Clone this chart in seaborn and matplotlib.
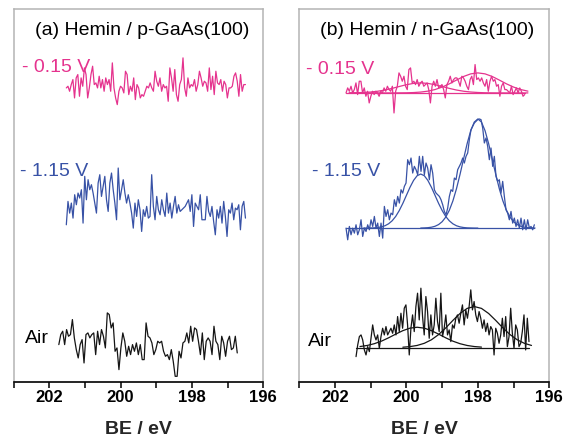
import numpy as np
import matplotlib
matplotlib.use("Agg")
import matplotlib.pyplot as plt
from matplotlib.ticker import MultipleLocator, FuncFormatter
import seaborn as sns

sns.set_style("white")
plt.rcParams["font.family"] = ["Liberation Sans", "DejaVu Sans"]

# ---------------- data (intensity in arbitrary counts) ----------------
# (a) Hemin / p-GaAs(100)
p_neg015_be = (201.52, 196.50)
p_neg015 = [50, 55, 40, 60, 75, 20, 80, 90, 25, 80,
            55, 110, 90, 20, 50, 90, 115, 60, 65, 50,
            85, 50, 75, 40, 80, 60, 75, 40, 125, 50,
            20, 0, 40, 55, 50, 35, 100, 90, 30, 55,
            40, 80, 15, 60, 50, 20, 30, 25, 40, 55,
            50, 65, 50, 40, 100, 70, 55, 80, 40, 60,
            50, 55, 10, 110, 80, 40, 105, 30, 10, 60,
            75, 140, 50, 25, 80, 50, 60, 55, 75, 40,
            60, 100, 80, 55, 70, 65, 40, 110, 45, 85,
            30, 100, 65, 60, 75, 40, 70, 60, 20, 50,
            50, 55, 85, 95, 70, 25, 90, 40, 60, 60]

p_neg115_be = (201.52, 196.50)
p_neg115 = [35, 105, 70, 100, 55, 125, 95, 130, 115, 140,
            40, 180, 110, 170, 140, 155, 130, 100, 70, 160,
            185, 120, 150, 180, 110, 75, 160, 190, 140, 100,
            50, 205, 110, 140, 170, 130, 100, 125, 100,
            70, 25, 100, 60, 110, 80, 15, 80, 60,
            90, 55, 60,
            185, 90, 50, 120, 80, 65, 110, 80, 60, 130,
            70, 100, 55, 90, 120, 70, 95,
            75, 80, 85, 90, 100, 110, 75, 125,
            30, 100, 90, 80, 125,
            50, 50, 50, 120,
            75, 60, 90, 45, 5,
            80, 55, 90, 40, 105,
            60, 0,
            80, 70, 100, 50, 85, 80, 95, 20,
            90, 105, 55]

p_air_be = (201.73, 196.73)
p_air = [110, 140, 150, 110, 155, 135, 140, 185, 130, 95,
         70, 110, 125, 55, 140, 145, 130, 140, 145, 80,
         150, 110, 155, 135, 100, 205, 200, 160, 175, 90,
         100, 35, 100, 145, 120, 75, 105, 80, 110, 90,
         115, 80, 110, 65, 65, 175, 135, 130, 115, 80,
         95, 120, 115, 120, 90, 75, 80, 65, 95, 60,
         15, 15, 90, 70, 115, 120, 145, 115, 165, 120,
         160, 155, 120, 80, 145, 65, 120, 130, 120, 80,
         165, 120, 110, 65, 135, 115, 75, 120, 135, 95,
         100, 135, 85]

# (b) Hemin / n-GaAs(100)
n_neg015_be = (201.69, 196.69)
n_neg015 = [70, 85, 75, 90, 70, 80, 100, 65, 105, 105,
            70, 85, 60, 75, 40, 60, 75, 65, 75, 70,
            60, 75, 70, 85, 75, 90, 80, 75, 90, 10,
            75, 90, 130, 120, 105, 120, 90, 80, 140, 145,
            100, 105, 95, 110, 90, 100, 105, 90, 95, 100,
            80, 40, 90, 105, 90, 110, 85, 90, 95, 80,
            55, 95, 105, 120, 100, 110, 115, 115, 105, 90,
            120, 115, 105, 90, 80, 110, 120, 95, 155, 110,
            115, 105, 115, 100, 90, 110, 75, 105, 120, 105,
            110, 90, 95, 60, 90, 100, 80, 80, 75, 70,
            90, 65, 75, 85, 70, 85, 75, 60, 65]
n_neg015_bg = 70
n_neg015_fit_be = (201.6, 196.6)
n_neg015_fit1 = [70.2, 70.5, 71.3, 72.7, 75.1, 78.7, 83.6, 89.3, 94.6, 98.6,
                 100, 98.6, 94.6, 89.3, 83.6, 78.7, 75.1, 72.7, 71.3, 70.5,
                 70.2, 70.1, 70, 70, 70, 70]
n_neg015_fit2 = [70, 70, 70, 70, 70, 70, 70, 70.2, 70.4, 71.1,
                 72.6, 75.3, 80.1, 87.5, 97.2, 108.5, 119.3, 127.1, 130, 127.1,
                 119.3, 108.5, 97.2, 87.5, 80.1, 75.3]

n_neg115_be = (201.69, 196.42)
n_neg115 = [45, 10, 50, 25, 45, 30, 55, 25, 40, 70,
            20, 45, 35, 55, 40, 70, 50, 80, 45, 60,
            20, 60, 15,
            110, 80, 100, 70, 90, 85, 130, 110, 140, 120,
            160, 150, 170, 180, 250, 235, 255, 210, 230, 220,
            205, 260, 215, 260, 205, 240, 225, 190, 235, 210,
            160, 150, 145, 140, 130, 115, 95, 85, 105, 140,
            160, 155, 195, 190, 220, 230, 240, 255, 240, 260,
            270, 310, 340, 350, 360, 365, 370, 372, 370, 345,
            300, 315, 290, 250, 285, 230, 260, 200, 185, 190,
            150, 185, 140, 100, 90, 70, 95, 60, 75, 50,
            70, 45, 75, 40, 70, 40, 70, 45, 50, 40,
            55]
n_neg115_bg = 45
n_neg115_fit1_be = (201.2, 198.0)
n_neg115_fit1 = [45, 45.1, 45.4, 45.8, 46.8, 48.7, 52.1, 57.9, 66.9, 80,
                 97.7, 119.2, 143.3, 167.3, 187.9, 202, 207, 202, 187.9, 167.3,
                 143.3, 119.2, 97.7, 80, 66.9, 57.9, 52.1, 48.7, 46.8, 45.8,
                 45.4, 45.1, 45]
n_neg115_fit2_be = (199.6, 196.4)
n_neg115_fit2 = [45.2, 45.6, 46.3, 47.7, 50.5, 55.6, 64.2, 77.9, 98.3, 126.4,
                 162.7, 205.9, 252.6, 298.4, 337, 362.8, 372, 362.8, 337, 298.4,
                 252.6, 205.9, 162.7, 126.4, 98.3, 77.9, 64.2, 55.6, 50.5, 47.7,
                 46.3, 45.6, 45.2]

n_air_be = (201.41, 196.57)
n_air = [5, 40, 65, 70, 55, 25, 10, 35, 20, 60,
         100, 70, 55, 70, 30, 65, 90, 70, 95, 70,
         80, 90, 75, 100, 70, 125, 80, 135, 90, 150,
         160, 100, 10, 90, 130, 80, 155, 195, 115, 210,
         125, 70, 185, 140, 60, 130, 70, 100, 180, 110,
         80, 195, 65, 90, 130, 70, 85, 50, 100, 90,
         120, 130, 105, 135, 160, 100, 145, 120, 155, 205,
         145, 170, 130, 110, 140, 120, 90, 115, 80, 105,
         70, 95, 85, 10, 90, 75, 45, 70, 120, 65,
         125, 35, 65, 150, 75, 30, 100, 85, 35, 45,
         80, 130, 25, 120, 50]
n_air_bg = 32
n_air_fit1_be = (201.3, 197.9)
n_air_fit1 = [35.2, 38.4, 43.7, 51.3, 61.3, 72.4, 82.8, 90.3, 93, 90.3,
              82.8, 72.4, 61.3, 51.3, 43.7, 38.4, 35.2, 33.5]
n_air_fit2_be = (200.1, 196.5)
n_air_fit2 = [33.2, 35, 38.5, 44.9, 55.5, 71, 91, 113.4, 134.3, 149.5,
              155, 149.5, 134.3, 113.4, 91, 71, 55.5, 44.9, 38.5]

# ---------------- style ----------------
PINK = "#e5338e"
BLUE = "#3852a6"
BLACK = "#151515"
LW = 0.9


def draw(ax, be, vals, offset, color):
    x = np.linspace(be[0], be[1], len(vals))
    y = np.asarray(vals, dtype=float) + offset
    sns.lineplot(x=x, y=y, ax=ax, color=color, linewidth=LW,
                 sort=False, estimator=None)


def draw_bg(ax, be, level, offset, color):
    sns.lineplot(x=list(be), y=[level + offset] * 2, ax=ax, color=color,
                 linewidth=LW, sort=False, estimator=None)


fig = plt.figure(figsize=(5.65, 4.45), dpi=100)
ax_a = fig.add_axes([0.0239, 0.1416, 0.4421, 0.8371])
ax_b = fig.add_axes([0.5296, 0.1416, 0.4427, 0.8371])

# panel (a)
draw(ax_a, p_neg015_be, p_neg015, 831, PINK)
draw(ax_a, p_neg115_be, p_neg115, 436, BLUE)
draw(ax_a, p_air_be, p_air, 2, BLACK)

# panel (b)
draw(ax_b, n_neg015_be, n_neg015, 796, PINK)
draw_bg(ax_b, n_neg015_be, n_neg015_bg, 796, PINK)
draw(ax_b, n_neg015_fit_be, n_neg015_fit1, 796, PINK)
draw(ax_b, n_neg015_fit_be, n_neg015_fit2, 796, PINK)

draw(ax_b, n_neg115_be, n_neg115, 416, BLUE)
draw_bg(ax_b, n_neg115_be, n_neg115_bg, 416, BLUE)
draw(ax_b, n_neg115_fit1_be, n_neg115_fit1, 416, BLUE)
draw(ax_b, n_neg115_fit2_be, n_neg115_fit2, 416, BLUE)

draw(ax_b, n_air_be, n_air, 71, BLACK)
draw_bg(ax_b, n_air_be, n_air_bg, 71, BLACK)
draw(ax_b, n_air_fit1_be, n_air_fit1, 71, BLACK)
draw(ax_b, n_air_fit2_be, n_air_fit2, 71, BLACK)

for ax in (ax_a, ax_b):
    ax.set_xlim(203, 196)
    ax.set_ylim(0, 1116)
    ax.set_yticks([])
    ax.set_ylabel("")
    ax.xaxis.set_major_locator(MultipleLocator(1))
    ax.xaxis.set_major_formatter(
        FuncFormatter(lambda v, p: f"{v:.0f}" if round(v) % 2 == 0 else ""))
    ax.tick_params(axis="x", direction="out", length=4.5, width=1.1,
                   pad=1.5, labelsize=12, colors="black", bottom=True)
    for lab in ax.get_xticklabels():
        lab.set_fontweight("bold")
    for s in ("top", "left", "right"):
        ax.spines[s].set_color("#b4b4b4")
        ax.spines[s].set_linewidth(1.1)
    ax.spines["bottom"].set_color("black")
    ax.spines["bottom"].set_linewidth(1.2)
    ax.set_xlabel("BE / eV", fontsize=14, fontweight="bold", labelpad=11)

ax_a.text(0.086, 0.944, "(a) Hemin / p-GaAs(100)", transform=ax_a.transAxes,
          fontsize=14, ha="left", va="center", color="black")
ax_b.text(0.083, 0.944, "(b) Hemin / n-GaAs(100)", transform=ax_b.transAxes,
          fontsize=14, ha="left", va="center", color="black")

ax_a.text(0.034, 0.844, "- 0.15 V", transform=ax_a.transAxes, fontsize=14,
          ha="left", va="center", color=PINK)
ax_a.text(0.026, 0.565, "- 1.15 V", transform=ax_a.transAxes, fontsize=14,
          ha="left", va="center", color=BLUE)
ax_a.text(0.046, 0.118, "Air", transform=ax_a.transAxes, fontsize=14,
          ha="left", va="center", color="black")

ax_b.text(0.027, 0.839, "- 0.15 V", transform=ax_b.transAxes, fontsize=14,
          ha="left", va="center", color=PINK)
ax_b.text(0.051, 0.565, "- 1.15 V", transform=ax_b.transAxes, fontsize=14,
          ha="left", va="center", color=BLUE)
ax_b.text(0.035, 0.108, "Air", transform=ax_b.transAxes, fontsize=14,
          ha="left", va="center", color="black")

fig.savefig("out.png", dpi=100)
